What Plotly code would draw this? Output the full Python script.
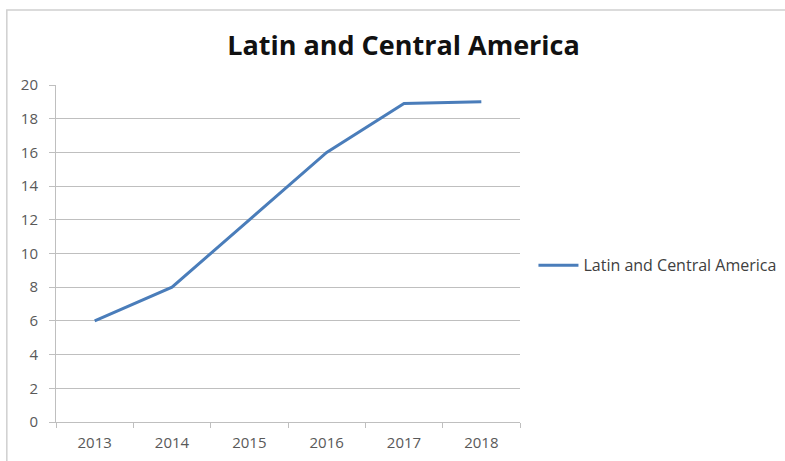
import plotly.graph_objects as go

# Series data
years = ["2013", "2014", "2015", "2016", "2017", "2018"]
values = [6, 8, 12, 16, 18.9, 19.0]
series_name = "Latin and Central America"
y_ticks = [0, 2, 4, 6, 8, 10, 12, 14, 16, 18, 20]

fig = go.Figure()
fig.add_trace(go.Scatter(
    x=years, y=values, name=series_name, mode="lines",
    line=dict(color="#4A7DBA", width=3),
    showlegend=True,
))

axis_grey = "#BFBFBF"
tick_font = dict(family="Open Sans, Liberation Sans, sans-serif", size=15, color="#595959")
legend_font = dict(family="Open Sans, Liberation Sans, sans-serif", size=16, color="#404040")

fig.update_layout(
    width=785, height=461,
    margin=dict(l=56, r=265, t=85, b=39, autoexpand=False),
    paper_bgcolor="white", plot_bgcolor="white",
    title=dict(text="<b>Latin and Central America</b>", x=0.514, xanchor="center",
               y=0.902, yanchor="middle",
               font=dict(family="Open Sans, Lato, sans-serif", size=27, color="#111111")),
    xaxis=dict(type="category", range=[-0.5, 5.5], showgrid=False, showline=True,
               linecolor=axis_grey, linewidth=1,
               ticks="outside", tickson="boundaries", ticklen=5, tickcolor=axis_grey,
               tickfont=tick_font, ticklabelstandoff=7),
    yaxis=dict(range=[0, 20], tickvals=y_ticks, showgrid=True, gridcolor=axis_grey, gridwidth=1,
               showline=True, linecolor=axis_grey, linewidth=1, ticks="outside", ticklen=6,
               tickcolor=axis_grey, tickfont=tick_font, zeroline=False, ticklabelstandoff=8),
    legend=dict(x=1.029, xanchor="left", y=0.465, yanchor="middle",
                font=legend_font, bgcolor="rgba(0,0,0,0)", itemwidth=40),
    shapes=[dict(type="rect", xref="paper", yref="paper", x0=-0.106, x1=1.6, y0=-0.14, y1=1.2226,
                 line=dict(color="#D0D0D0", width=1.5), fillcolor="rgba(0,0,0,0)", layer="below")],
)

fig.write_html("out.html")
